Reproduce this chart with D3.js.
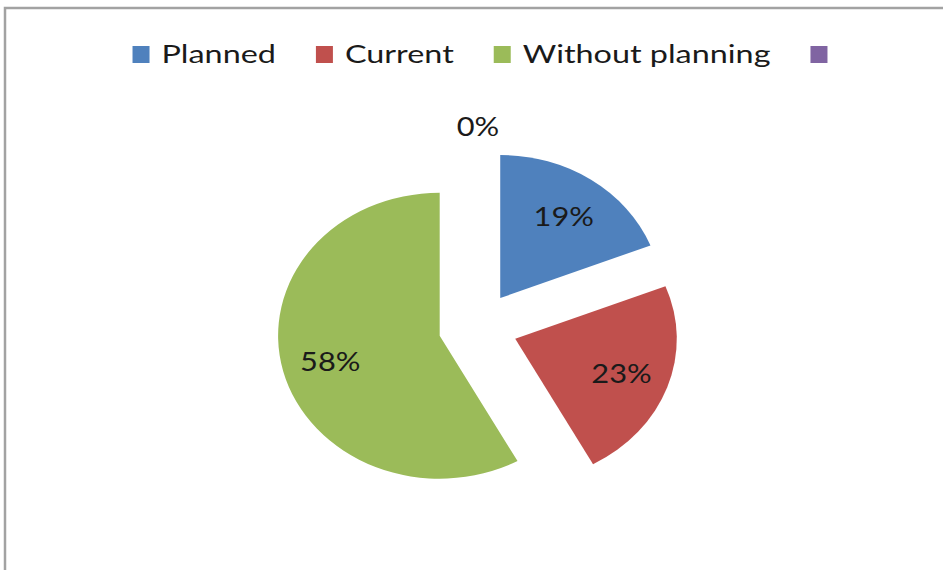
<!DOCTYPE html>
<html>
<head>
<meta charset="utf-8">
<script src="https://cdn.jsdelivr.net/npm/d3@7/dist/d3.min.js"></script>
<style>
  html, body { margin: 0; padding: 0; background: #fff; }
  svg { display: block; }
  text { font-family: Lato, "Open Sans", sans-serif; fill: #1a1a1a; }
</style>
</head>
<body>
<svg id="chart" width="943" height="570"></svg>
<script>
// Share of projects by planning status
const categories = ["Planned", "Current", "Without planning", ""];
const values = [19, 23, 58, 0];
const valueLabels = ["19%", "23%", "58%", "0%"];
const colors = ["#4F81BD", "#C0504D", "#9BBB59", "#8064A2"];

const W = 943, H = 570;
const svg = d3.select("#chart");

// Chart frame (only the top and left edges fall inside the view)
svg.append("path")
  .attr("d", `M5,${H} V8 H${W}`)
  .attr("fill", "none")
  .attr("stroke", "#a2a2a2")
  .attr("stroke-width", 2.5);

// Pie geometry: the plot is slightly wider than tall
const sx = 1.13;            // horizontal stretch of the plot area
const cx = 478, cy = 327;   // pie centre
const radius = 143;
const explode = 35;         // distance each slice is pulled out
const labelR = 100;         // label distance from slice apex
const zeroLabelR = 202;     // label distance for empty slices

const pie = d3.pie().sort(null).value(d => d)
  .startAngle(0).endAngle(2 * Math.PI);
const arcs = pie(values);
const arc = d3.arc().innerRadius(0).outerRadius(radius);

const dirOf = a => [Math.sin(a), -Math.cos(a)];

const plot = svg.append("g")
  .attr("transform", `translate(${cx},${cy}) scale(${sx},1)`);

plot.selectAll("path.slice")
  .data(arcs.filter(d => d.value > 0))
  .join("path")
  .attr("class", "slice")
  .attr("fill", d => colors[d.index])
  .attr("transform", d => {
    const [ux, uy] = dirOf((d.startAngle + d.endAngle) / 2);
    return `translate(${ux * explode},${uy * explode})`;
  })
  .attr("d", arc);

// Value labels
const labelSize = 27;
const labelStretch = 1.14;
svg.selectAll("text.value")
  .data(arcs)
  .join("text")
  .attr("class", "value")
  .attr("font-size", labelSize)
  .attr("text-anchor", "middle")
  .attr("dominant-baseline", "central")
  .attr("transform", d => {
    const mid = (d.startAngle + d.endAngle) / 2;
    const [ux, uy] = dirOf(mid);
    const dist = d.value > 0 ? explode + labelR : zeroLabelR;
    const x = cx + ux * dist * sx;
    const y = cy + uy * dist;
    return `translate(${x},${y}) scale(${labelStretch},1)`;
  })
  .text(d => valueLabels[d.index]);

// Legend across the top
const legendSize = 25.5;
const legendStretch = 1.27;
const sw = 17, swGap = 12, itemGap = 40, legendY = 46;
const legend = svg.append("g");
const items = legend.selectAll("g.item")
  .data(categories)
  .join("g")
  .attr("class", "item");
items.append("rect")
  .attr("width", sw).attr("height", sw)
  .attr("fill", (d, i) => colors[i]);
items.append("text")
  .attr("font-size", legendSize)
  .attr("y", sw - 0.5)
  .attr("transform", `translate(${sw + swGap},0) scale(${legendStretch},1)`)
  .text(d => d);

let xPos = 0;
const offsets = [];
items.each(function(d) {
  offsets.push(xPos);
  const tw = d ? this.querySelector("text").getComputedTextLength() * legendStretch : 0;
  xPos += sw + (d ? swGap + tw + itemGap : 0);
});
const legendW = xPos;
const legendX = 480 - legendW / 2;
items.attr("transform", (d, i) => `translate(${legendX + offsets[i]},${legendY})`);
</script>
</body>
</html>
